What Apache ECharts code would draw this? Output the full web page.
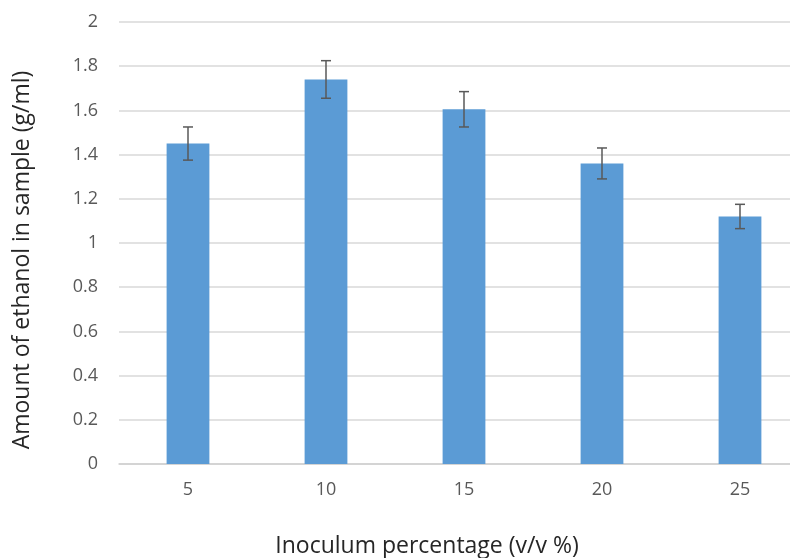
<!DOCTYPE html>
<html><head><meta charset="utf-8">
<script src="https://cdn.jsdelivr.net/npm/echarts@6/dist/echarts.min.js"></script>
<style>html,body{margin:0;padding:0;background:#fff;overflow:hidden;width:790px;height:558px}#c{width:830px;height:558px}</style>
</head><body><div id="c"></div>
<script>
const categories = ['5', '10', '15', '20', '25'];
const values = [1.45, 1.74, 1.605, 1.36, 1.12];
const errors = [0.075, 0.085, 0.08, 0.07, 0.055];
const yTicks = { min: 0, max: 2, interval: 0.2 };
const xTitle = 'Inoculum percentage (v/v %)';
const yTitle = 'Amount of ethanol in sample (g/ml)';

const chart = echarts.init(document.getElementById('c'));
const font = '"Open Sans", "Liberation Sans", sans-serif';
chart.setOption({
  animation: false,
  grid: { left: 119, right: 21, top: 22, height: 442, containLabel: false },
  xAxis: {
    type: 'category', data: categories,
    axisLine: { lineStyle: { color: '#d0d0d0', width: 1.5 } },
    axisTick: { show: false },
    axisLabel: { color: '#595959', fontSize: 18, margin: 17, fontFamily: font }
  },
  yAxis: {
    type: 'value', min: yTicks.min, max: yTicks.max, interval: yTicks.interval,
    axisLine: { show: false }, axisTick: { show: false },
    splitLine: { lineStyle: { color: '#d9d9d9', width: 1.5 } },
    axisLabel: { color: '#595959', fontSize: 18, margin: 21, fontFamily: font }
  },
  series: [{
    type: 'bar', data: values, barWidth: '31%',
    itemStyle: { color: '#5b9bd5' }
  }, {
    type: 'custom',
    data: values.map((v, i) => [i, v - errors[i], v + errors[i]]),
    renderItem: function (params, api) {
      const lo = api.coord([api.value(0), api.value(1)]);
      const hi = api.coord([api.value(0), api.value(2)]);
      const cap = 5;
      const st = { stroke: '#595959', lineWidth: 1.5 };
      return { type: 'group', children: [
        { type: 'line', shape: { x1: lo[0], y1: lo[1], x2: hi[0], y2: hi[1] }, style: st },
        { type: 'line', shape: { x1: hi[0] - cap, y1: hi[1], x2: hi[0] + cap, y2: hi[1] }, style: st },
        { type: 'line', shape: { x1: lo[0] - cap, y1: lo[1], x2: lo[0] + cap, y2: lo[1] }, style: st }
      ]};
    },
    z: 5
  }],
  graphic: [
    { type: 'text', position: [427, 546], style: { text: xTitle, fontSize: 23, fill: '#262626', fontFamily: font, textAlign: 'center', textVerticalAlign: 'middle' } },
    { type: 'text', rotation: Math.PI / 2, position: [22, 260], style: { text: yTitle, fontSize: 23, fill: '#262626', fontFamily: font, textAlign: 'center', textVerticalAlign: 'middle' } }
  ]
});
</script></body></html>
